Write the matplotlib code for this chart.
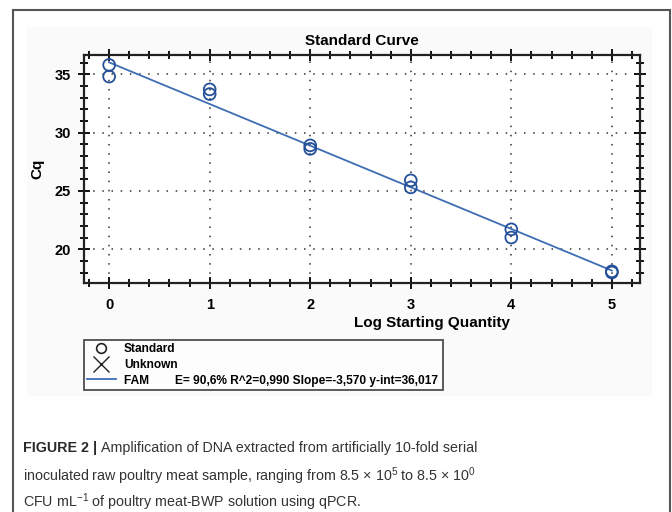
import matplotlib
matplotlib.use("Agg")
import matplotlib.pyplot as plt
from matplotlib.patches import Rectangle
from matplotlib.lines import Line2D
import numpy as np

# ---- data ----
log_qty = [0, 0, 1, 1, 2, 2, 3, 3, 4, 4, 5, 5]
cq = [35.8, 34.8, 33.7, 33.3, 28.9, 28.6, 25.9, 25.3, 21.7, 21.0, 18.1, 18.0]
fit_slope = -3.570
fit_intercept = 36.017
fit_x = [0, 5]
x_ticks = [0, 1, 2, 3, 4, 5]
y_ticks = [20, 25, 30, 35]
legend_labels = ["Standard", "Unknown",
                 "FAM        E= 90,6% R^2=0,990 Slope=-3,570 y-int=36,017"]

W, H = 672, 512
fig = plt.figure(figsize=(W / 100, H / 100), dpi=100)
fig.patch.set_facecolor("white")

def fx(px):
    return px / W

def fy(py):
    return 1 - py / H

# outer frame and faint chart background
fig.patches.append(Rectangle((fx(13), fy(530)), fx(670) - fx(13), fy(10) - fy(530),
                             transform=fig.transFigure, fill=False,
                             edgecolor="#555555", linewidth=1.5, zorder=-2))
fig.patches.append(Rectangle((fx(27), fy(396)), fx(652) - fx(27), fy(27) - fy(396),
                             transform=fig.transFigure, facecolor="#fafafa",
                             edgecolor="none", zorder=-3))

ax = fig.add_axes([fx(84), fy(283), fx(640) - fx(84), fy(55) - fy(283)])
ax.set_zorder(2)
ax.set_facecolor("white")
ax.set_xlim(-0.25, 5.28)
ax.set_ylim(17.1, 36.65)

fit_y = [fit_intercept + fit_slope * x for x in fit_x]
ax.plot(fit_x, fit_y, color="#3f6db3", lw=1.3, zorder=3)
ax.scatter(log_qty, cq, s=72, facecolors="none", edgecolors="#24509a",
           linewidths=1.3, zorder=4)

ax.set_xticks(x_ticks)
ax.set_yticks(y_ticks)
ax.set_xticks(np.arange(-0.2, 5.3, 0.2), minor=True)
ax.set_yticks(np.arange(18, 37, 1), minor=True)
ax.tick_params(which="both", direction="inout", top=True, right=True,
               labeltop=False, labelright=False, width=1.3, color="black")
ax.tick_params(which="major", length=9)
ax.tick_params(which="minor", length=6)
for lab in ax.get_xticklabels() + ax.get_yticklabels():
    lab.set_fontweight("bold")
    lab.set_fontsize(10.5)
    lab.set_fontfamily("Liberation Sans")
ax.tick_params(axis="x", pad=6)
ax.tick_params(axis="y", pad=5)
ax.grid(True, which="major", color="#333333", linestyle=(0, (1, 5)), lw=1.1)
for s in ax.spines.values():
    s.set_linewidth(1.6)
    s.set_color("#222222")

ax.set_title("Standard Curve", fontsize=11, fontweight="bold",
             family="Liberation Sans", pad=7)
ax.set_xlabel("Log Starting Quantity", fontsize=11, fontweight="bold",
              family="Liberation Sans")
ax.xaxis.set_label_coords(0.625, -0.145)
ax.set_ylabel("Cq", fontsize=11, fontweight="bold", family="Liberation Sans")
ax.yaxis.set_label_coords(-0.072, 0.5)

handles = [
    Line2D([], [], marker="o", linestyle="none", markerfacecolor="none",
           markeredgecolor="#222222", markersize=7, markeredgewidth=1.2),
    Line2D([], [], marker="x", linestyle="none", color="#222222",
           markersize=11, markeredgewidth=1.0),
    Line2D([], [], color="#3f6db3", lw=1.3),
]
leg = fig.legend(handles, legend_labels, loc="upper left",
                 bbox_to_anchor=(fx(84), fy(340), fx(443) - fx(84), 0.0001),
                 mode="expand", frameon=True, fancybox=False, edgecolor="#222222",
                 prop={"family": "Liberation Sans", "weight": "bold", "size": 8.6},
                 borderpad=0.25, labelspacing=0.32, handlelength=2.4,
                 handletextpad=0.7, borderaxespad=0)
leg.get_frame().set_linewidth(1.3)

# caption
cap_color = "#333333"
plt.rcParams["mathtext.fontset"] = "custom"
plt.rcParams["mathtext.rm"] = "Liberation Sans"
plt.rcParams["mathtext.it"] = "Liberation Sans"
cap_fam = ["Liberation Sans", "DejaVu Sans"]
fs = 10.3
renderer = fig.canvas.get_renderer()
t1 = fig.text(fx(23), fy(448), "FIGURE 2 |", fontsize=fs, fontweight="bold",
              color="#2a2a2a", family=cap_fam, va="center")
bb = t1.get_window_extent(renderer)
fig.text(bb.x1 / W + fx(4), fy(448),
         "Amplification of DNA extracted from artificially 10-fold serial",
         fontsize=fs, color=cap_color, family=cap_fam, va="center")
fig.text(fx(23), fy(476),
         "inoculated raw poultry meat sample, ranging from 8.5 \u00d7 10$^{5}$ to 8.5 \u00d7 10$^{0}$",
         fontsize=fs, color=cap_color, family=cap_fam, va="center")
fig.text(fx(23), fy(502),
         "CFU mL$^{-1}$ of poultry meat-BWP solution using qPCR.",
         fontsize=fs, color=cap_color, family=cap_fam, va="center")

fig.savefig("out.png", dpi=100, facecolor="white")
